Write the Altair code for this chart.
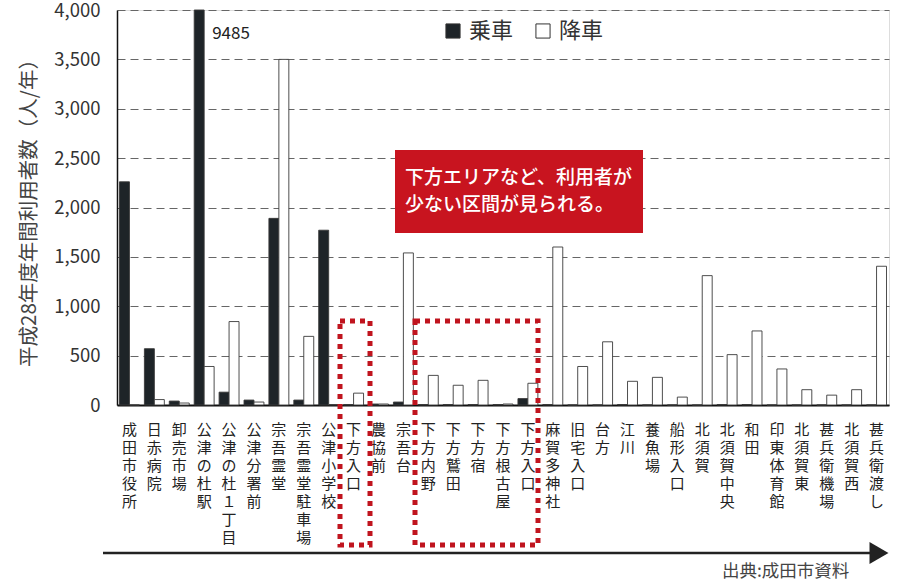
import altair as alt
import pandas as pd

stops = ["成田市役所", "日赤病院", "卸売市場", "公津の杜駅", "公津の杜１丁目", "公津分署前",
         "宗吾霊堂", "宗吾霊堂駐車場", "公津小学校", "下方入口", "農協前", "宗吾台",
         "下方内野", "下方鷲田", "下方宿", "下方根古屋", "下方入口", "麻賀多神社",
         "旧宅入口", "台方", "江川", "養魚場", "船形入口", "北須賀", "北須賀中央",
         "和田", "印東体育館", "北須賀東", "甚兵衛機場", "北須賀西", "甚兵衛渡し"]
boarding = [2260, 570, 40, 9485, 130, 50, 1890, 50, 1770, 5, 10, 30,
            5, 5, 5, 5, 65, 5, 0, 0, 5, 0, 0, 0, 5,
            5, 0, 0, 0, 0, 0]
alighting = [0, 55, 20, 390, 845, 30, 3500, 695, 5, 120, 10, 1540,
             300, 200, 250, 10, 220, 1600, 390, 640, 240, 280, 80, 1310, 510,
             750, 365, 155, 100, 155, 1405]
series = ["乗車", "降車"]
y_ticks = [0, 500, 1000, 1500, 2000, 2500, 3000, 3500, 4000]
note_lines = ["下方エリアなど、利用者が", "少ない区間が見られる。"]
source_text = "出典:成田市資料"
y_title = "平成28年度年間利用者数（人/年）"

FONT = "Noto Sans CJK JP"

keys = [f"{i:02d}{s}" for i, s in enumerate(stops)]
rows = []
for k, b, a in zip(keys, boarding, alighting):
    rows.append({"key": k, "series": series[0], "value": b})
    rows.append({"key": k, "series": series[1], "value": a})
df = pd.DataFrame(rows)

xscale = alt.Scale(domain=keys, paddingInner=0.2, paddingOuter=0.1)

bars = alt.Chart(df).mark_bar(stroke="#3a3a3a", strokeWidth=0.9).encode(
    x=alt.X("key:N", sort=keys, scale=xscale, title=None,
            axis=alt.Axis(labelExpr="split(substring(datum.label, 2), '')",
                          labelAngle=0, labelAlign="center", labelBaseline="top",
                          labelFont=FONT, labelFontSize=15, labelLineHeight=18,
                          labelColor="#222", labelPadding=17, labelOverlap=False,
                          labelBound=False, ticks=False, tickSize=0,
                          domainColor="#111", domainWidth=2, grid=False)),
    xOffset=alt.XOffset("series:N", sort=series),
    y=alt.Y("value:Q", scale=alt.Scale(domain=[0, 4000], clamp=True, nice=False),
            title=y_title,
            axis=alt.Axis(values=y_ticks, format=",.0f", labelFont=FONT, labelFontSize=18.5,
                          labelColor="#333", labelPadding=17, ticks=False, tickSize=0,
                          domainColor="#111", domainWidth=1.5,
                          grid=True, gridDash=[8, 5], gridColor="#666", gridWidth=1,
                          titleFont=FONT, titleFontSize=20.5, titleFontWeight="normal",
                          titleColor="#444", titleX=-78)),
    fill=alt.Fill("series:N", sort=series,
                  scale=alt.Scale(domain=series, range=["#1e2428", "#ffffff"]),
                  legend=alt.Legend(orient="none", legendX=325, legendY=10,
                                    direction="horizontal", title=None,
                                    symbolType="square", symbolSize=200,
                                    symbolStrokeColor="#333", symbolStrokeWidth=1,
                                    labelFont=FONT, labelFontSize=22, labelColor="#333",
                                    labelOffset=5, columnPadding=18)),
)

lbl_df = pd.DataFrame({"key": [keys[3]], "text": [f"{boarding[3]}"]})
big_label = alt.Chart(lbl_df).mark_text(
    align="left", baseline="middle", dx=8, font=FONT, fontSize=17, color="#222"
).encode(x=alt.X("key:N", sort=keys, scale=xscale), y=alt.value(24), text="text:N")

one = pd.DataFrame({"a": [0]})

note_box = alt.Chart(one).mark_rect(color="#c8141f").encode(
    x=alt.value(278), x2=alt.value(526), y=alt.value(140), y2=alt.value(223))
note_text = alt.Chart(one).mark_text(
    text=note_lines, align="left", baseline="middle", font=FONT, fontSize=19,
    fontWeight=500, color="white", lineHeight=27
).encode(x=alt.value(288), y=alt.value(168))

box1 = alt.Chart(one).mark_rect(fill=None, stroke="#c0141e", strokeWidth=5,
                                strokeDash=[5, 5], clip=False).encode(
    x=alt.value(223), x2=alt.value(253), y=alt.value(311), y2=alt.value(535))
box2 = alt.Chart(one).mark_rect(fill=None, stroke="#c0141e", strokeWidth=5,
                                strokeDash=[5, 5], clip=False).encode(
    x=alt.value(298), x2=alt.value(421), y=alt.value(311), y2=alt.value(535))

arrow_line = alt.Chart(one).mark_rule(color="#222", strokeWidth=2.5).encode(
    x=alt.value(-14), x2=alt.value(755), y=alt.value(543))
arrow_head = alt.Chart(one).mark_point(shape="triangle-right", filled=True,
                                       color="#222", size=480, opacity=1).encode(
    x=alt.value(762), y=alt.value(543))

source = alt.Chart(one).mark_text(
    text=source_text, align="left", baseline="middle", font=FONT, fontSize=17.5,
    color="#444").encode(x=alt.value(605), y=alt.value(562))

chart = alt.layer(
    bars, big_label, note_box, note_text, box1, box2, arrow_line, arrow_head, source
).properties(
    width=772, height=395,
    autosize=alt.AutoSizeParams(type="none"),
    padding={"left": 117, "top": 10, "right": 14, "bottom": 178},
).configure_view(stroke=None).configure(background="white")

chart.save("out.html", embed_options={"renderer": "svg", "actions": False})
